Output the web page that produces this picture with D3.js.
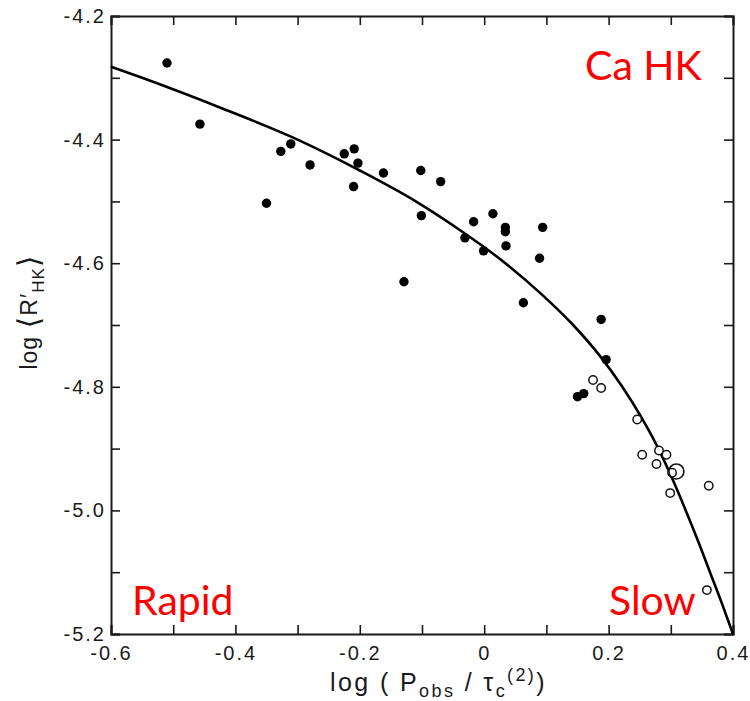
<!DOCTYPE html>
<html>
<head>
<meta charset="utf-8">
<script src="https://cdn.jsdelivr.net/npm/d3@7"></script>
<style>
  body { margin: 0; background: #fff; }
</style>
</head>
<body>
<div id="chart"></div>
<script>
// filled dots
const filledX = [-0.510, -0.457, -0.350, -0.327, -0.311, -0.280, -0.225, -0.209, -0.203, -0.210,
  -0.162, -0.102, -0.070, -0.101, -0.129, -0.031, -0.017, -0.001, 0.014, 0.034,
  0.034, 0.035, 0.094, 0.089, 0.063, 0.188, 0.196, 0.150, 0.160];
const filledY = [-4.276, -4.375, -4.503, -4.419, -4.407, -4.441, -4.423, -4.415, -4.438, -4.476,
  -4.454, -4.450, -4.468, -4.523, -4.630, -4.559, -4.533, -4.580, -4.520, -4.542,
  -4.549, -4.572, -4.542, -4.592, -4.664, -4.691, -4.756, -4.816, -4.811];

// open dots
const openX = [0.175, 0.188, 0.246, 0.254, 0.281, 0.293, 0.277, 0.302, 0.299, 0.361, 0.358];
const openY = [-4.789, -4.802, -4.853, -4.910, -4.903, -4.910, -4.925, -4.939, -4.972, -4.960, -5.129];

// the big open circle (Sun)
const sunX = [0.309];
const sunY = [-4.937];

// fitted curve
const fitX = [-0.60, -0.55, -0.42, -0.30, -0.20, -0.11, -0.034, 0.034, 0.092, 0.143,
  0.186, 0.222, 0.253, 0.280, 0.303, 0.324, 0.344, 0.363, 0.382, 0.400];
const fitY = [-4.282, -4.30, -4.35, -4.40, -4.45, -4.50, -4.55, -4.60, -4.65, -4.70,
  -4.75, -4.80, -4.85, -4.90, -4.95, -5.00, -5.05, -5.10, -5.15, -5.20];

// tick labels
const xTicks = [-0.6, -0.4, -0.2, 0, 0.2, 0.4];
const xTickLabels = ["-0.6", "-0.4", "-0.2", "0", "0.2", "0.4"];
const yTicks = [-4.2, -4.4, -4.6, -4.8, -5.0, -5.2];
const yTickLabels = ["-4.2", "-4.4", "-4.6", "-4.8", "-5.0", "-5.2"];

// Setup
const width = 750;
const height = 701;
const x0 = 111, x1 = 733, y0 = 16, y1 = 634;
const ink = "#1a1a1a";
const tickFont = "'Liberation Sans', Arial, sans-serif";

const x = d3.scaleLinear().domain([-0.6, 0.4]).range([x0, x1]);
const y = d3.scaleLinear().domain([-4.2, -5.2]).range([y0, y1]);

const minorX = d3.range(-6, 5).map(d => d / 10);
const minorY = d3.range(-52, -41).map(d => d / 10);

function labelFor(ticks, labels) {
  return d => {
    const i = ticks.findIndex(t => Math.abs(t - d) < 1e-9);
    return i < 0 ? "" : labels[i];
  };
}

const svg = d3.select("#chart")
  .append("svg")
  .attr("width", width)
  .attr("height", height);

// axes - ticks on all four sides, pointing in
const axisB = svg.append("g")
  .attr("transform", `translate(0,${y1})`)
  .call(d3.axisBottom(x).tickValues(minorX).tickSize(-9).tickPadding(12)
    .tickFormat(labelFor(xTicks, xTickLabels)));

const axisL = svg.append("g")
  .attr("transform", `translate(${x0},0)`)
  .call(d3.axisLeft(y).tickValues(minorY).tickSize(-9).tickPadding(5)
    .tickFormat(labelFor(yTicks, yTickLabels)));

const axisT = svg.append("g")
  .attr("transform", `translate(0,${y0})`)
  .call(d3.axisTop(x).tickValues(minorX).tickSize(-9).tickFormat(""));

const axisR = svg.append("g")
  .attr("transform", `translate(${x1},0)`)
  .call(d3.axisRight(y).tickValues(minorY).tickSize(-9).tickFormat(""));

[axisB, axisL, axisT, axisR].forEach(g => {
  g.select(".domain").attr("stroke", ink).attr("stroke-width", 2);
  g.selectAll(".tick line").attr("stroke", ink).attr("stroke-width", 1.6);
  g.selectAll(".tick text")
    .attr("fill", ink)
    .style("font-family", tickFont)
    .style("font-size", "20px")
    .style("letter-spacing", "2px");
});

// fit curve
const line = d3.line()
  .x(d => x(d[0]))
  .y(d => y(d[1]))
  .curve(d3.curveMonotoneX);

svg.append("path")
  .datum(d3.zip(fitX, fitY))
  .attr("fill", "none")
  .attr("stroke", "#000")
  .attr("stroke-width", 2.6)
  .attr("d", line);

// points
svg.selectAll("circle.filled")
  .data(d3.zip(filledX, filledY))
  .enter()
  .append("circle")
  .attr("class", "filled")
  .attr("cx", d => x(d[0]))
  .attr("cy", d => y(d[1]))
  .attr("r", 4.7)
  .attr("fill", "#000");

svg.selectAll("circle.open")
  .data(d3.zip(openX, openY))
  .enter()
  .append("circle")
  .attr("class", "open")
  .attr("cx", d => x(d[0]))
  .attr("cy", d => y(d[1]))
  .attr("r", 4.2)
  .attr("fill", "#fff")
  .attr("stroke", "#111")
  .attr("stroke-width", 1.5);

svg.selectAll("circle.sun")
  .data(d3.zip(sunX, sunY))
  .enter()
  .append("circle")
  .attr("class", "sun")
  .attr("cx", d => x(d[0]))
  .attr("cy", d => y(d[1]))
  .attr("r", 7.5)
  .attr("fill", "none")
  .attr("stroke", "#111")
  .attr("stroke-width", 1.6);

// axis titles
const yTitle = svg.append("text")
  .attr("transform", "translate(37,312) rotate(-90)")
  .attr("text-anchor", "middle")
  .attr("fill", ink)
  .style("font-family", tickFont)
  .style("font-size", "23px")
  .style("letter-spacing", "1px");
yTitle.append("tspan").text("log ");
yTitle.append("tspan").attr("dy", 2).style("font-family", "'DejaVu Sans', sans-serif").style("font-size", "30px").text("\u27E8");
yTitle.append("tspan").attr("dy", -2).text("R\u2032");
yTitle.append("tspan").attr("dy", 7).style("font-size", "17px").text("HK");
yTitle.append("tspan").attr("dy", -5).style("font-family", "'DejaVu Sans', sans-serif").style("font-size", "30px").text("\u27E9");

const xTitle = svg.append("text")
  .attr("x", 330)
  .attr("y", 691)
  .attr("text-anchor", "start")
  .attr("fill", ink)
  .style("font-family", tickFont)
  .style("font-size", "25px")
  .style("letter-spacing", "2.4px");
xTitle.append("tspan").text("log ( P");
xTitle.append("tspan").attr("dy", 6).style("font-size", "18px").text("obs");
xTitle.append("tspan").attr("dy", -6).text(" / \u03C4");
xTitle.append("tspan").attr("dy", 6).style("font-size", "18px").text("c");
xTitle.append("tspan").attr("dy", -16).style("font-size", "18px").text("(2)");
xTitle.append("tspan").attr("dy", 10).text(")");

// red annotations
const notes = [
  { text: "Ca HK", x: 585, y: 80 },
  { text: "Rapid", x: 132, y: 615 },
  { text: "Slow", x: 609, y: 615 }
];
svg.selectAll("text.note")
  .data(notes)
  .enter()
  .append("text")
  .attr("class", "note")
  .attr("x", d => d.x)
  .attr("y", d => d.y)
  .attr("fill", "#ff0000")
  .style("font-family", "Lato, 'Open Sans', sans-serif")
  .style("font-size", "41px")
  .text(d => d.text);
</script>
</body>
</html>
